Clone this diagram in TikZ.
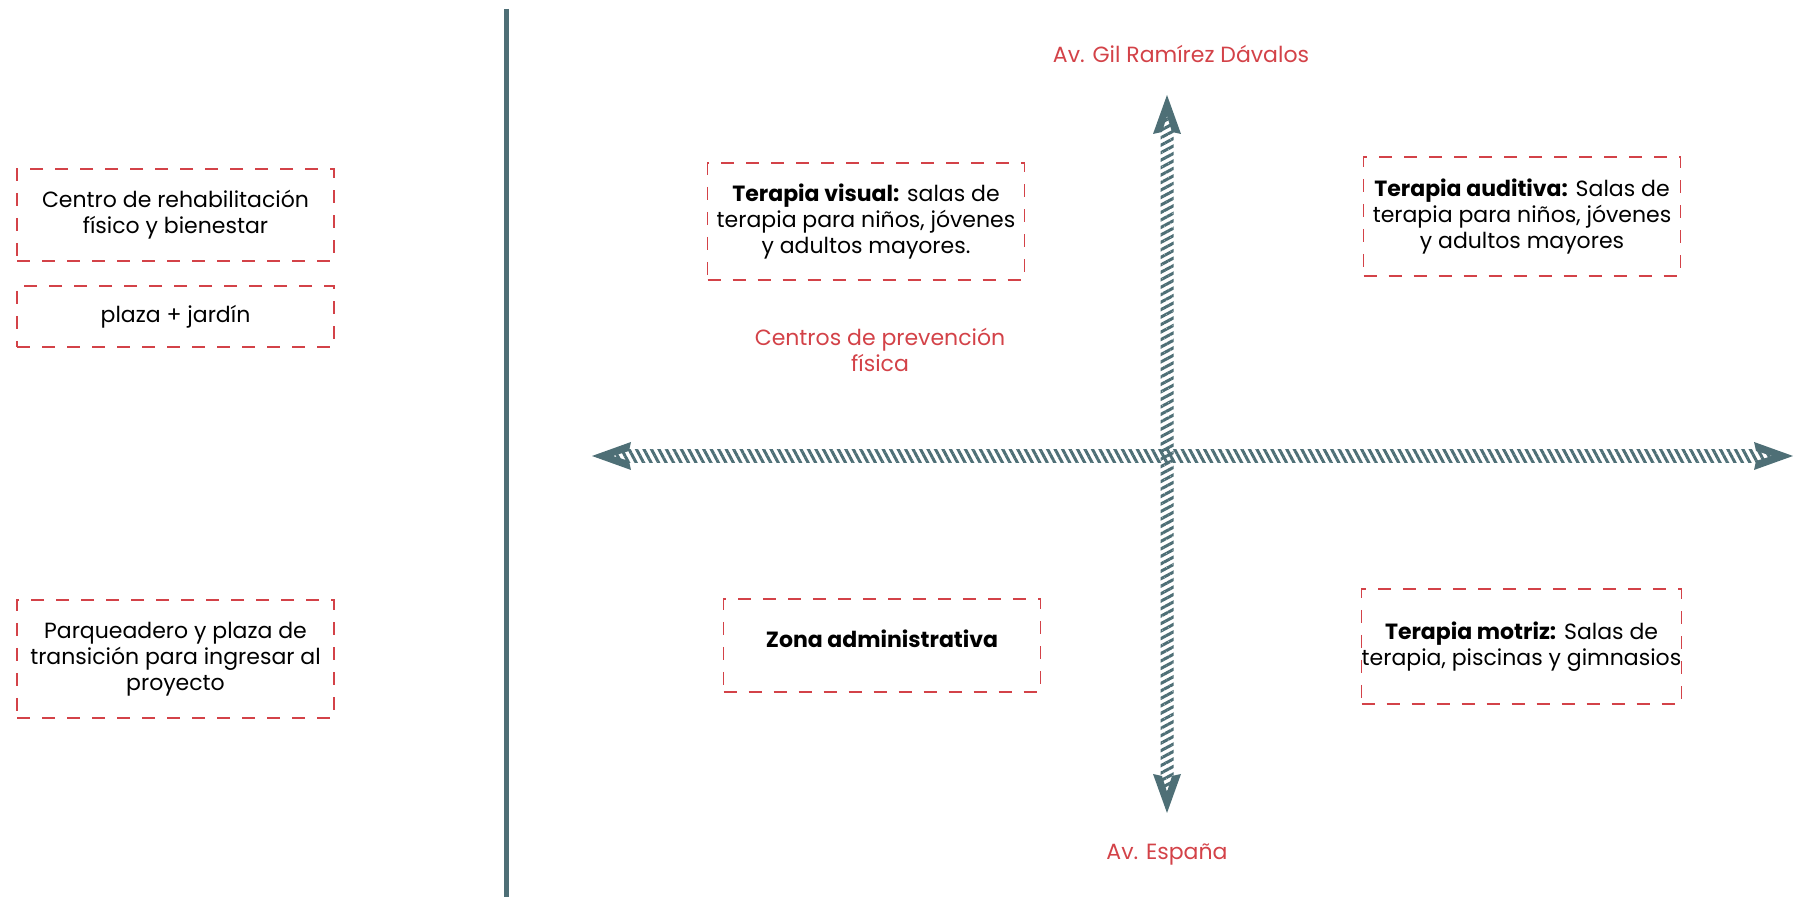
\documentclass[tikz,border=0pt]{standalone}
\usepackage{fontspec}
\setmainfont{Poppins}
\usetikzlibrary{patterns.meta,calc}
\definecolor{axisc}{RGB}{78,111,118}
\definecolor{accent}{RGB}{211,66,72}
\tikzset{
  zone/.style={draw=accent, line width=0.75pt, dash pattern=on 6.5pt off 6pt,
    align=center, inner sep=0pt, minimum width=158.5pt,
    font=\fontsize{11}{13}\selectfont},
  street/.style={text=accent, align=center, font=\fontsize{11}{13}\selectfont},
  hatch/.style={pattern={Lines[angle=#1,distance=3.3pt,line width=1.5pt]}, pattern color=axisc},
}
\begin{document}
\begin{tikzpicture}[x=0.5pt, y=0.5pt]
  \useasboundingbox (0,0) rectangle (1798,897);
  % divider
  \draw[axisc, line width=2.5pt] (506,888) -- (506,0);
  % left column
  \node[zone, minimum height=46pt] (rehab) at (175.5,682) {Centro de rehabilitación\\físico y bienestar};
  \node[zone, minimum height=30.5pt] (plaza) at (175.5,580.5) {plaza + jardín};
  \node[zone, minimum height=59pt] (parking) at (175.5,238) {Parqueadero y plaza de\\transición para ingresar al\\proyecto};
  % axes
  \coordinate (N) at (1167,802);
  \coordinate (S) at (1167,84);
  \coordinate (W) at (592,441);
  \coordinate (E) at (1793,441);
  \fill[hatch=-62] ($(W)+(20,-6.5)$) rectangle ($(E)+(-20,6.5)$);
  \fill[hatch=28] ($(S)+(-6.5,20)$) rectangle ($(N)+(6.5,-20)$);
  \fill[axisc, shift={(E)}] (0,0) -- (-39,14) -- (-37,5) -- (-21,0) -- (-37,-5) -- (-39,-14) -- cycle;
  \fill[axisc, shift={(W)}, rotate=180] (0,0) -- (-39,14) -- (-37,5) -- (-21,0) -- (-37,-5) -- (-39,-14) -- cycle;
  \fill[axisc, shift={(N)}, rotate=90] (0,0) -- (-39,14) -- (-37,5) -- (-21,0) -- (-37,-5) -- (-39,-14) -- cycle;
  \fill[axisc, shift={(S)}, rotate=-90] (0,0) -- (-39,14) -- (-37,5) -- (-21,0) -- (-37,-5) -- (-39,-14) -- cycle;
  % street names
  \node[street] (north) at (1181,843) {Av. Gil Ramírez Dávalos};
  \node[street] (south) at (1167,42) {Av. España};
  \node[street] (prev) at (880,547) {Centros de prevención\\física};
  % quadrants
  \node[zone, minimum height=58.5pt] (visual) at (866,675.5) {\textbf{Terapia visual:} salas de\\terapia para niños, jóvenes\\y adultos mayores.};
  \node[zone, minimum height=59.5pt] (audit) at (1522,680.5) {\textbf{Terapia auditiva:} Salas de\\terapia para niños, jóvenes\\y adultos mayores};
  \node[zone, minimum height=46.5pt, text depth=7pt] (admin) at (882,251.5) {\textbf{Zona administrativa}};
  \node[zone, minimum height=57.5pt] (motor) at (1521.5,250.5) {\textbf{Terapia motriz:} Salas de\\terapia, piscinas y gimnasios};
\end{tikzpicture}
\end{document}
